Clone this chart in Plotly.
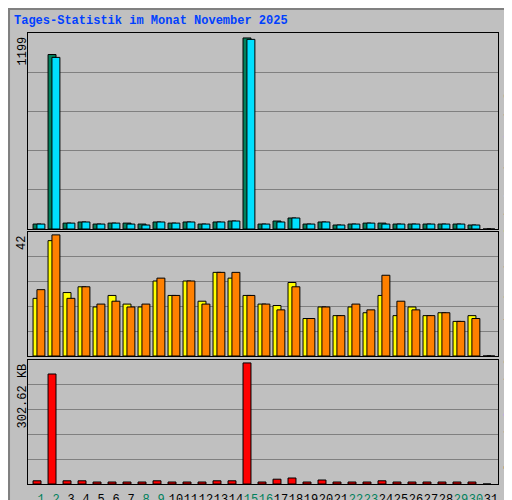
import plotly.graph_objects as go

days = list(range(1, 32))
weekend = [1, 2, 8, 9, 15, 16, 22, 23, 29, 30]

anfragen = [31, 1095, 37, 44, 31, 37, 37, 31, 44, 37, 44, 31, 44, 50, 1199,
            31, 50, 69, 31, 44, 25, 31, 37, 37, 31, 31, 31, 31, 31, 25, 0]
dateien = [31, 1077, 37, 44, 31, 37, 31, 25, 44, 37, 44, 31, 44, 50, 1190,
           31, 44, 69, 31, 44, 25, 31, 37, 31, 31, 31, 31, 31, 31, 25, 0]
besuche = [20, 40, 22, 24, 17, 21, 18, 17, 26, 21, 26, 19, 29, 27, 21,
           18, 17.5, 25.5, 13, 17, 14, 17, 15, 21, 14, 17, 14, 15, 12, 14, 0]
rechner = [23, 42, 20, 24, 18, 19, 17, 18, 27, 21, 26, 18, 29, 29, 21,
           18, 16, 24, 13, 17, 14, 18, 16, 28, 19, 16, 14, 15, 12, 13, 0]
volumen = [8, 275, 8, 8, 5, 5, 5, 5, 8, 5, 5, 5, 8, 8, 302.62,
           5, 12, 15, 5, 10, 5, 5, 5, 8, 5, 5, 5, 5, 5, 5, 0]

BG = "#C0C0C0"
FONT = "Liberation Mono"
L, R = 20 / 512, 490 / 512

def py(p):
    return 1 - p / 500

fig = go.Figure()
line = dict(color="black", width=1)
fig.add_bar(x=days, y=anfragen, marker=dict(color="#00805C", line=line),
            offset=-0.53, width=0.53, xaxis="x", yaxis="y")
fig.add_bar(x=days, y=dateien, marker=dict(color="#00E0FF", line=line),
            offset=-0.27, width=0.53, xaxis="x", yaxis="y")
fig.add_bar(x=days, y=besuche, marker=dict(color="#FFFF00", line=line),
            offset=-0.53, width=0.53, xaxis="x2", yaxis="y2")
fig.add_bar(x=days, y=rechner, marker=dict(color="#FF8000", line=line),
            offset=-0.27, width=0.53, xaxis="x2", yaxis="y2")
fig.add_bar(x=days, y=volumen, marker=dict(color="#FF0000", line=line),
            offset=-0.53, width=0.53, xaxis="x3", yaxis="y3")

xr = [0.133, 31.47]
ticktext = [f"<span style='color:{'#00805C' if d in weekend else 'black'}'>{d}</span>" for d in days]
common_x = dict(range=xr, showgrid=False, zeroline=False, showline=True, linecolor="black",
                mirror=True, domain=[L, R], fixedrange=True)
fig.update_layout(
    width=512, height=500, margin=dict(l=0, r=0, t=0, b=0),
    paper_bgcolor=BG, plot_bgcolor=BG, showlegend=False, barmode="overlay",
    font=dict(family=FONT, size=12, color="black"),
    xaxis=dict(common_x, anchor="y", showticklabels=False),
    xaxis2=dict(common_x, anchor="y2", showticklabels=False),
    xaxis3=dict(common_x, anchor="y3", tickvals=days, ticktext=ticktext, ticks="",
                tickangle=0, ticklabelstandoff=4, tickfont=dict(family=FONT, size=12)),
)

def yax(top, bottom, maxv):
    return dict(domain=[py(bottom), py(top)], range=[0, maxv], showticklabels=False,
                tickvals=[maxv * k / 5 for k in range(1, 5)], gridcolor="#808080", gridwidth=1,
                zeroline=False, showline=True, linecolor="black", mirror=True, fixedrange=True)

fig.update_layout(yaxis=yax(25, 221, 1230), yaxis2=yax(224, 348, 43),
                  yaxis3=yax(352, 476, 310))

fig.add_annotation(x=0.008, y=py(4), xref="paper", yref="paper", xanchor="left", yanchor="top",
                   text="<b>Tages-Statistik im Monat November 2025</b>", showarrow=False,
                   font=dict(family=FONT, size=12, color="#0040FF"))
for txt, top in [("1199", 27), ("42", 226), ("302.62 KB", 354)]:
    fig.add_annotation(x=14 / 512, y=py(top), xref="paper", yref="paper", textangle=-90,
                       xanchor="center", yanchor="top", text=txt, showarrow=False,
                       font=dict(family=FONT, size=12))

parts = [("Volumen", "#FF0000"), ("Vol. In", "#0040FF"), ("Vol. Out", "#00805C"),
         ("Rechner", "#FF8000"), ("Besuche", "#FFFF00"), ("Seiten", "#00E0FF"),
         ("Dateien", "#0040FF"), ("Anfragen", "#00805C")]
side = "<span style='color:black'>/</span>".join(f"<span style='color:{c}'>{t}</span>" for t, c in parts)
fig.add_annotation(x=492 / 512, y=py(478), xref="paper", yref="paper", textangle=-90,
                   xanchor="left", yanchor="bottom", text=side, showarrow=False,
                   font=dict(family=FONT, size=11))

fig.add_shape(type="rect", xref="paper", yref="paper", x0=0.002, y0=0.002, x1=0.998, y1=0.998,
              line=dict(color="#808080", width=2))

fig.write_html("out.html")
